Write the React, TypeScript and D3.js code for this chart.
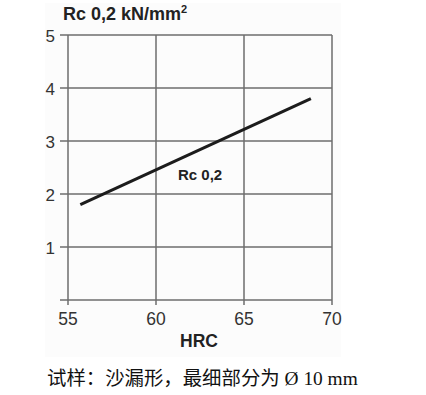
import React from "react";
import * as d3 from "d3";

const hrcValues = [55.7, 68.8];
const rcValues = [1.8, 3.8];
const xTicks = [55, 60, 65, 70];
const yTicks = [0, 1, 2, 3, 4, 5];
const yTickLabels = ["", "1", "2", "3", "4", "5"];
const titleText = "Rc 0,2 kN/mm";
const titleSup = "2";
const xAxisTitle = "HRC";
const seriesLabel = "Rc 0,2";
const caption = "试样：沙漏形，最细部分为 Ø 10 mm";

export default function App() {
  const x = d3.scaleLinear().domain([55, 70]).range([68, 332]);
  const y = d3.scaleLinear().domain([0, 5]).range([300, 35]);
  const pts = hrcValues.map((h, i) => [h, rcValues[i]] as [number, number]);
  const line = d3
    .line<[number, number]>()
    .x((d) => x(d[0]))
    .y((d) => y(d[1]));
  const grid = "#6e6e6e";
  const sans = "Arial, 'Liberation Sans', Helvetica, sans-serif";
  return (
    <svg
      width={426}
      height={395}
      style={{ position: "absolute", left: 0, top: 0 }}
    >
      <rect x={0} y={0} width={426} height={395} fill="#ffffff" />
      <rect x={45} y={3} width={296} height={354} fill="#fcfcfc" />
      {yTicks.map((t) => (
        <line
          key={"h" + t}
          x1={60}
          x2={x(70)}
          y1={y(t)}
          y2={y(t)}
          stroke={grid}
          strokeWidth={1.5}
        />
      ))}
      {xTicks.map((t) => (
        <line
          key={"v" + t}
          x1={x(t)}
          x2={x(t)}
          y1={y(5)}
          y2={y(0) + 5}
          stroke={grid}
          strokeWidth={1.5}
        />
      ))}
      {yTicks.map((t, i) => (
        <text
          key={"yl" + t}
          x={55}
          y={y(t) + 7}
          textAnchor="end"
          fontFamily={sans}
          fontSize={17}
          fill="#333"
        >
          {yTickLabels[i]}
        </text>
      ))}
      {xTicks.map((t) => (
        <text
          key={"xl" + t}
          x={x(t)}
          y={325}
          textAnchor="middle"
          fontFamily={sans}
          fontSize={17.5}
          fill="#333"
        >
          {t}
        </text>
      ))}
      <path
        d={line(pts) || ""}
        fill="none"
        stroke="#1c1c1c"
        strokeWidth={3}
      />
      <text
        x={178}
        y={180}
        fontFamily={sans}
        fontSize={15}
        fontWeight="bold"
        fill="#222"
      >
        {seriesLabel}
      </text>
      <text
        x={63}
        y={20}
        fontFamily={sans}
        fontSize={18}
        fontWeight="bold"
        fill="#222"
      >
        {titleText}
        <tspan fontSize={11} dy={-7}>
          {titleSup}
        </tspan>
      </text>
      <text
        x={199}
        y={347}
        textAnchor="middle"
        fontFamily={sans}
        fontSize={17.5}
        fontWeight="bold"
        fill="#222"
      >
        {xAxisTitle}
      </text>
      <text
        x={47}
        y={385}
        fontFamily="'Liberation Serif', 'Noto Sans CJK SC', serif"
        fontSize={19.4}
        fill="#111"
      >
        {caption}
      </text>
    </svg>
  );
}
